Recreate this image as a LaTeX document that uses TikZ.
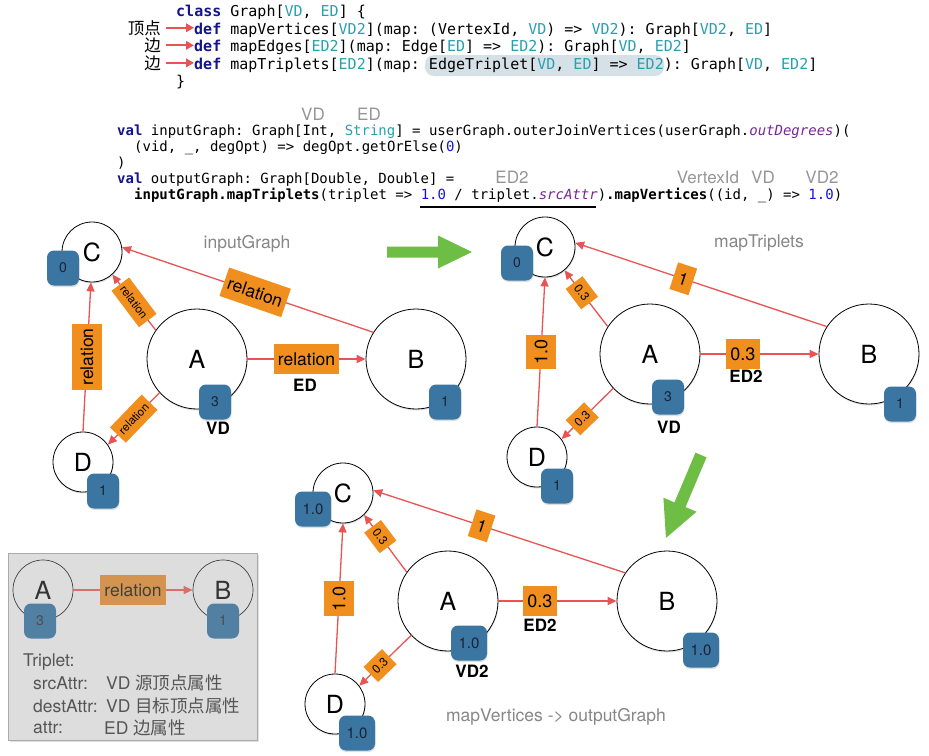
\documentclass[tikz,border=0pt]{standalone}
\usepackage{fontspec}
\setmainfont{TeX Gyre Heros}
\setmonofont{DejaVu Sans Mono}
\newfontfamily\cjk{Noto Sans CJK SC}
\usetikzlibrary{arrows.meta,shadows}
\definecolor{lorange}{RGB}{240,143,30}
\definecolor{boxblue}{RGB}{59,118,163}
\definecolor{boxtext}{RGB}{25,35,50}
\definecolor{ered}{RGB}{232,84,84}
\definecolor{agreen}{RGB}{110,190,70}
\definecolor{captgray}{RGB}{135,135,135}
\definecolor{anngray}{RGB}{150,150,150}
\definecolor{kwc}{RGB}{20,20,140}
\definecolor{tyc}{RGB}{41,160,175}
\definecolor{nmc}{RGB}{20,20,230}
\definecolor{itc}{RGB}{120,40,150}
\definecolor{hlc}{RGB}{214,224,231}
\definecolor{legbg}{RGB}{221,221,221}
\definecolor{legborder}{RGB}{170,170,170}
\definecolor{legblue}{RGB}{82,128,163}
\definecolor{legorange}{RGB}{212,148,80}
\definecolor{legred}{RGB}{214,112,108}
\definecolor{legtext}{RGB}{85,85,85}
\newcommand{\myfs}[1]{\fontsize{#1}{#1}\selectfont}
\newcommand{\ckw}[1]{\textcolor{kwc}{\bfseries #1}}
\newcommand{\cty}[1]{\textcolor{tyc}{#1}}
\newcommand{\cnm}[1]{\textcolor{nmc}{#1}}
\newcommand{\cit}[1]{\textcolor{itc}{\itshape #1}}
\tikzset{
  vbig/.style={circle, draw=black, line width=0.8pt, fill=white, minimum size=100pt, inner sep=0pt,
    font=\myfs{25}, drop shadow={shadow xshift=0.5pt, shadow yshift=-1.5pt, opacity=0.25}},
  vsmall/.style={vbig, minimum size=60pt},
  vbox/.style={rounded corners=7pt, fill=boxblue, minimum width=32pt, minimum height=35pt, inner sep=0pt,
    font=\myfs{14}, text=boxtext, drop shadow={shadow xshift=0.5pt, shadow yshift=-1.5pt, opacity=0.25}},
  vboxw/.style={vbox, minimum width=36pt, font=\myfs{15}},
  edge/.style={draw=ered, line width=1.3pt, -{Triangle[length=9pt,width=8pt]}},
  elab/.style={fill=lorange, inner sep=0pt, inner xsep=4pt, minimum height=30pt, font=\myfs{17.5}, text=black, midway},
  elabs/.style={fill=lorange, inner sep=0pt, inner xsep=4pt, minimum height=22pt, font=\myfs{11.5}, text=black, midway},
  nlab/.style={fill=lorange, inner sep=0pt, inner xsep=4.5pt, minimum height=30pt, font=\myfs{18}, text=black, midway},
  nlabone/.style={fill=lorange, inner sep=0pt, minimum width=20pt, minimum height=28pt, font=\myfs{17}, text=black},
  nlabs/.style={fill=lorange, inner sep=0pt, inner xsep=4.5pt, minimum height=21pt, font=\myfs{12}, text=black},
  bold/.style={font=\myfs{17}\bfseries, inner sep=0pt},
  capt/.style={font=\myfs{17.5}, text=captgray, inner sep=0pt},
  ann/.style={font=\myfs{17}, text=anngray, inner sep=0pt},
  codeA/.style={font=\ttfamily\myfs{15}, anchor=base west, inner sep=0pt},
  codeB/.style={font=\ttfamily\myfs{14}, anchor=base west, inner sep=0pt},
  zhlab/.style={font=\cjk\myfs{16.5}, anchor=base east, inner sep=0pt},
  redarr/.style={draw=ered, line width=1.8pt, -{Triangle[length=8pt,width=8.5pt]}},
  garrow/.style={fill=agreen},
  legcirc/.style={circle, draw=black!75, line width=0.7pt, minimum size=60pt, inner sep=0pt, font=\myfs{25}, text=black!80},
  legbox/.style={rounded corners=7pt, fill=legblue, minimum width=32pt, minimum height=35pt, inner sep=0pt, font=\myfs{14}, text=black!70},
  legtxt/.style={font=\myfs{17.5}, text=legtext, inner sep=0pt, anchor=west},
}
\begin{document}
\begin{tikzpicture}[x=1pt,y=-1pt]
\useasboundingbox (0,0) rectangle (929,755);
\fill[white] (0,0) rectangle (929,755);

% ---------- code block 1 ----------
\fill[hlc, rounded corners=9pt] (425,55) rectangle (664,76);
\node[codeA] (c1) at (176,16.5) {\ckw{class} Graph[\cty{VD}, \cty{ED}] \{};
\node[codeA] (c2) at (194,34) {\ckw{def} mapVertices[\cty{VD2}](map: (VertexId, \cty{VD}) => \cty{VD2}): Graph[\cty{VD2}, \cty{ED}]};
\node[codeA] (c3) at (194,51.5) {\ckw{def} mapEdges[\cty{ED2}](map: Edge[\cty{ED}] => \cty{ED2}): Graph[\cty{VD}, \cty{ED2}]};
\node[codeA] (c4) at (194,69) {\ckw{def} mapTriplets[\cty{ED2}](map: EdgeTriplet[\cty{VD}, \cty{ED}] => \cty{ED2}): Graph[\cty{VD}, \cty{ED2}]};
\node[codeA] (c5) at (176,86.5) {\}};
\node[zhlab] (z2) at (161,34) {顶点};
\node[zhlab] (z3) at (161,51.5) {边};
\node[zhlab] (z4) at (161,69) {边};
\draw[redarr] ([xshift=5pt]z2.east) -- (z2.east -| c2.west);
\draw[redarr] ([xshift=5pt]z3.east) -- (z3.east -| c3.west);
\draw[redarr] ([xshift=5pt]z4.east) -- (z4.east -| c4.west);

% ---------- code block 2 ----------
\node[ann] (a1) at (313,114) {VD};
\node[ann] (a2) at (369,114) {ED};
\node[codeB] (d1) at (117,135) {\ckw{val} inputGraph: Graph[Int, \cty{String}] = userGraph.outerJoinVertices(userGraph.\cit{outDegrees})(};
\node[codeB] (d2) at (134,151) {(vid, \_, degOpt) => degOpt.getOrElse(\cnm{0})};
\node[codeB] (d3) at (117,167) {)};
\node[codeB] (d4) at (117,183) {\ckw{val} outputGraph: Graph[Double, Double] =};
\node[codeB] (d5) at (134,199) {\textbf{inputGraph.mapTriplets}(triplet => \cnm{1.0} / triplet.\cit{srcAttr})\textbf{.mapVertices}((id, \_) => \cnm{1.0})};
\node[ann] (a3) at (512,177) {ED2};
\node[ann] (a4) at (708,177) {VertexId};
\node[ann] (a5) at (763,177) {VD};
\node[ann] (a6) at (822,177) {VD2};
\coordinate (ul1) at (420,207);
\coordinate (ul2) at (596,207);
\draw[line width=1.6pt] (ul1) -- (ul2);

% ---------- graph 1: inputGraph ----------
\node[capt] (t1) at (247,244) {inputGraph};
\node[vbig] (A1) at (197,359) {A};
\node[vbig] (B1) at (416,359) {B};
\node[vsmall] (C1) at (92,252) {C};
\node[vsmall] (D1) at (83,462) {D};
\node[vbox] (A1v) at (215,402) {3};
\node[vbox] (B1v) at (445,402) {1};
\node[vbox] (C1v) at (63,268) {0};
\node[vbox] (D1v) at (103,491) {1};
\draw[edge] (A1) -- node[elab]{relation} (B1);
\draw[edge] (B1.148) -- node[elab, pos=0.47, rotate=-19]{relation} (C1.9);
\draw[edge] (A1.145) -- node[elabs, rotate=-53]{relation} (C1.-48);
\draw[edge] (D1.90) -- node[elab, rotate=90]{relation} (C1.-92);
\draw[edge] (A1.222) -- node[elabs, rotate=46]{relation} (D1.35);
\node[bold] (ed1) at (305,385) {ED};
\node[bold] (vd1) at (218,428) {VD};

% ---------- graph 2: mapTriplets ----------
\node[capt] (t2) at (759,243) {mapTriplets};
\node[vbig] (A2) at (650,354) {A};
\node[vbig] (B2) at (869,354) {B};
\node[vsmall] (C2) at (545,247) {C};
\node[vsmall] (D2) at (537,457) {D};
\node[vbox] (A2v) at (668,397) {3};
\node[vbox] (B2v) at (900,404) {1};
\node[vbox] (C2v) at (517,263) {0};
\node[vbox] (D2v) at (557,486) {1};
\draw[edge] (A2) -- node[nlab, pos=0.36]{0.3} (B2);
\draw[edge] (B2.147) -- node[nlabone, pos=0.57, rotate=-18]{1} (C2.8);
\draw[edge] (A2.147) -- node[nlabs, pos=0.6, rotate=-53]{0.3} (C2.-50);
\draw[edge] (D2.90) -- node[nlab, rotate=90]{1.0} (C2.-90);
\draw[edge] (A2.223) -- node[nlabs, pos=0.6, rotate=44]{0.3} (D2.36);
\node[bold] (ed2) at (746,376) {ED2};
\node[bold] (vd2) at (669,427) {VD};

% ---------- graph 3: mapVertices ----------
\node[capt] (t3) at (556,717) {mapVertices -> outputGraph};
\node[vbig] (A3) at (448,601) {A};
\node[vbig] (B3) at (667,601) {B};
\node[vsmall] (C3) at (343,493) {C};
\node[vsmall] (D3) at (335,704) {D};
\node[vboxw] (A3v) at (469,643) {1.0};
\node[vboxw] (B3v) at (701,650) {1.0};
\node[vboxw] (C3v) at (313,509) {1.0};
\node[vboxw] (D3v) at (357,733) {1.0};
\draw[edge] (A3) -- node[nlab, pos=0.35]{0.3} (B3);
\draw[edge] (B3.146) -- node[nlabone, pos=0.57, rotate=-18]{1} (C3.5);
\draw[edge] (A3.145) -- node[nlabs, pos=0.62, rotate=-53]{0.3} (C3.-46);
\draw[edge] (D3.90) -- node[nlab, rotate=90]{1.0} (C3.-90);
\draw[edge] (A3.223) -- node[nlabs, pos=0.6, rotate=44]{0.3} (D3.37);
\node[bold] (ed3) at (540,625) {ED2};
\node[bold] (vd3) at (472,671) {VD2};

% ---------- green arrows ----------
\begin{scope}[shift={(387,252)}]
\fill[garrow] (0,-5.5) -- (51,-5.5) -- (51,-16.5) -- (85,0) -- (51,16.5) -- (51,5.5) -- (0,5.5) -- cycle;
\end{scope}
\begin{scope}[shift={(701,455)}, rotate=-112.9]
\fill[garrow] (0,-6) -- (54,-6) -- (54,-18) -- (90,0) -- (54,18) -- (54,6) -- (0,6) -- cycle;
\end{scope}

% ---------- legend ----------
\fill[black, opacity=0.12] (9.5,555) rectangle (258.5,742);
\draw[legborder, fill=legbg, line width=0.8pt] (8,553) rectangle (257,740);
\node[legcirc] (LA) at (43,590) {A};
\node[legcirc] (LB) at (223,590) {B};
\node[legbox] (LAv) at (40,621) {3};
\node[legbox] (LBv) at (223,621) {1};
\draw[draw=legred, line width=1.3pt, -{Triangle[length=9pt,width=8pt]}] (LA) -- node[midway, fill=legorange, inner sep=0pt, inner xsep=4pt, minimum height=30pt, font=\myfs{17.5}, text=black!75]{relation} (LB);
\node[legtxt] (lt0) at (23,662) {Triplet:};
\node[legtxt] (lt1) at (33,683) {srcAttr:};
\node[legtxt] (lv1) at (106,683) {VD {\cjk 源顶点属性}};
\node[legtxt] (lt2) at (33,706) {destAttr:};
\node[legtxt] (lv2) at (106,706) {VD {\cjk 目标顶点属性}};
\node[legtxt] (lt3) at (33,728) {attr:};
\node[legtxt] (lv3) at (104,728) {ED {\cjk 边属性}};
\end{tikzpicture}
\end{document}
